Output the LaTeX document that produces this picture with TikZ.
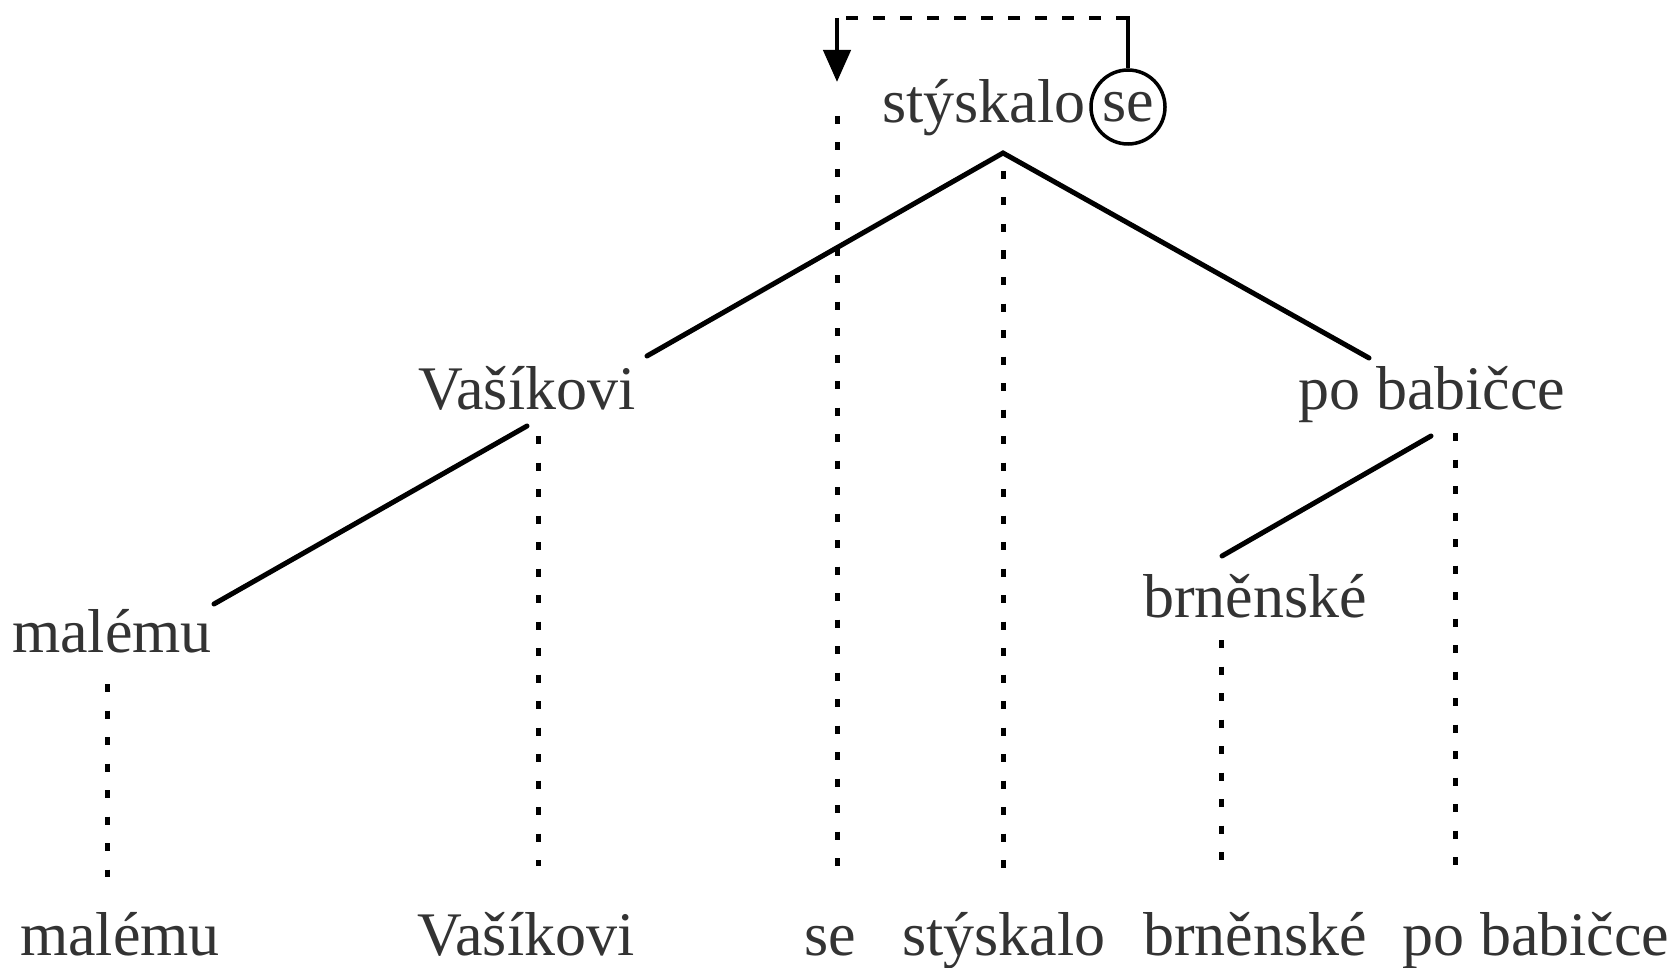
\documentclass[tikz,border=0pt]{standalone}
\usepackage{fontspec}
\setmainfont{Liberation Serif}
\usetikzlibrary{arrows.meta}
\definecolor{txt}{HTML}{333333}
\begin{document}
\begin{tikzpicture}[x=1pt,y=-1pt,
  word/.style={anchor=base,inner sep=0pt,text=txt,font=\fontsize{62}{70}\selectfont},
  clitic/.style={circle,draw,line width=3.5pt,minimum size=74pt,inner sep=0pt,text=txt,font=\fontsize{62}{70}\selectfont},
  edge/.style={line width=5pt,line cap=round},
  dots/.style={line width=5pt,dash pattern=on 8pt off 18.5pt},
  move/.style={line width=4.5pt,dash pattern=on 12pt off 15pt}]
\useasboundingbox (0,0) rectangle (1677,968);
% upper nodes
\node[word] (top) at (984,123) {stýskalo};
\node[clitic] (cl) at (1128,107) {se};
\node[word] (vas) at (527,409) {Vašíkovi};
\node[word] (pob) at (1432,409) {po babičce};
\node[word] (mal) at (112,652) {malému};
\node[word] (brn) at (1255,617) {brněnské};
% bottom row
\node[word] (bmal) at (120,955) {malému};
\node[word] (bvas) at (526,955) {Vašíkovi};
\node[word] (bse) at (830,955) {se};
\node[word] (bsty) at (1004,955) {stýskalo};
\node[word] (bbrn) at (1255,955) {brněnské};
\node[word] (bpob) at (1536,955) {po babičce};
% attachment points
\coordinate (apex) at (1003,153);
\coordinate (vasR) at (647,356);
\coordinate (pobL) at (1369,358);
\coordinate (vasB) at (527,426);
\coordinate (malR) at (214,604);
\coordinate (pobB) at (1431,436);
\coordinate (brnT) at (1222,556);
\coordinate (clTop) at (1128,16);
\coordinate (seCorner) at (837,18);
\coordinate (seTip) at (837,82);
\coordinate (seTr) at (837,116);
\coordinate (seBot) at (837,866);
\coordinate (styT) at (1003,171);
\coordinate (styBot) at (1003,868);
\coordinate (vasT) at (538,436);
\coordinate (vasBot) at (538,866);
\coordinate (malT) at (107,684);
\coordinate (malBot) at (107,877);
\coordinate (pobT) at (1455,433);
\coordinate (pobBot) at (1455,866);
\coordinate (brnB) at (1221,640);
\coordinate (brnBot) at (1221,866);
% tree edges
\draw[edge] (vasR) -- (apex) -- (pobL);
\draw[edge] (vasB) -- (malR);
\draw[edge] (pobB) -- (brnT);
% projection lines
\draw[dots] (seTr) -- (seBot);
\draw[dots] (styT) -- (styBot);
\draw[dots] (vasT) -- (vasBot);
\draw[dots] (malT) -- (malBot);
\draw[dots] (pobT) -- (pobBot);
\draw[dots] (brnB) -- (brnBot);
% clitic movement
\draw[line width=4.5pt] (cl.north) -- (clTop);
\draw[move] (clTop |- seCorner) -- (seCorner);
\draw[line width=4.5pt,-{Triangle[length=32pt,width=27pt]}] (seCorner) -- (seTip);
\end{tikzpicture}
\end{document}
